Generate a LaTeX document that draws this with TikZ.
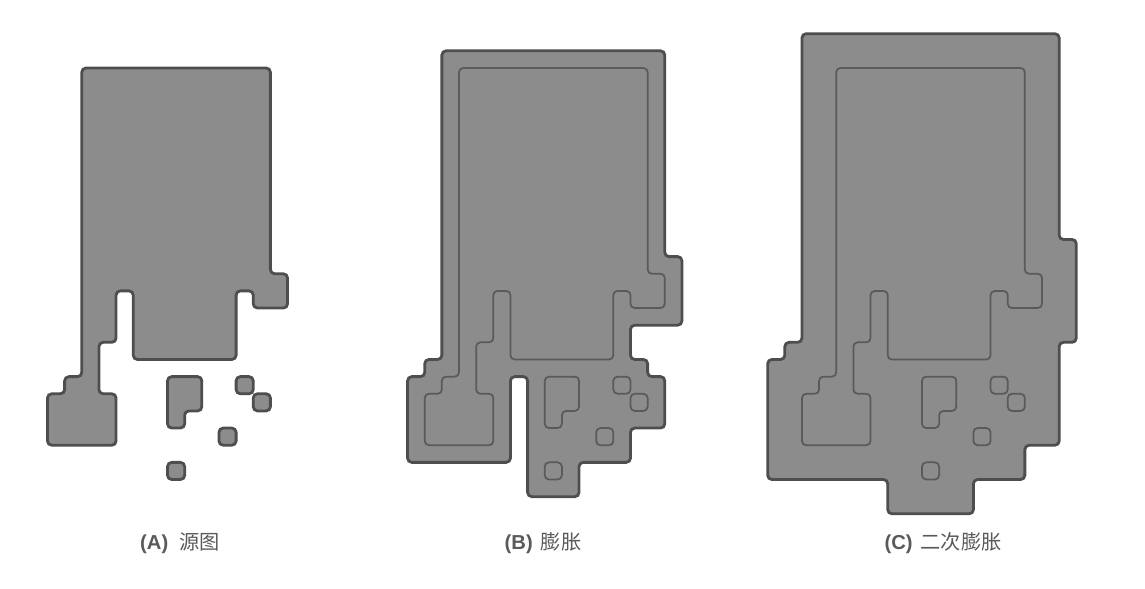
\documentclass[tikz,border=0pt]{standalone}
\usepackage{fontspec}
\setmainfont{Liberation Sans}
\newfontfamily\cjk{Noto Sans CJK SC}
\definecolor{blobfill}{HTML}{8C8C8C}
\definecolor{blobedge}{HTML}{4E4E4E}
\definecolor{labelgray}{HTML}{5A5A5A}

% source shape on a grid of cells (x right, y down)
\newcommand{\srcshape}{
  (2,0) -- (13,0) -- (13,12) -- (14,12) -- (14,14) -- (12,14) -- (12,13) -- (11,13)
  -- (11,17) -- (5,17) -- (5,13) -- (4,13) -- (4,16) -- (3,16) -- (3,19) -- (4,19)
  -- (4,22) -- (0,22) -- (0,19) -- (1,19) -- (1,18) -- (2,18) -- cycle
  (7,18) -- (9,18) -- (9,20) -- (8,20) -- (8,21) -- (7,21) -- cycle
  (11,18) rectangle (12,19)
  (12,19) rectangle (13,20)
  (10,21) rectangle (11,22)
  (7,23) rectangle (8,24)}

\begin{document}
\begin{tikzpicture}[x=0.02cm, y=-0.02cm,
  blob/.style={draw=blobedge, fill=blobfill, line width=1.6pt, rounded corners=2.4pt},
  trace/.style={draw=blobedge!80!blobfill, line width=1pt, rounded corners=2.4pt},
  cell/.style={x=0.343cm, y=-0.343cm},
  caption/.style={font=\fontsize{11.5}{13}\selectfont, text=labelgray}]
  \useasboundingbox (0,0) rectangle (1145,588);

  % (A) source
  \begin{scope}[shift={(0.95cm,-1.36cm)}, cell]
    \path[blob] \srcshape;
  \end{scope}

  % (B) dilated once
  \begin{scope}[shift={(8.496cm,-1.36cm)}, cell]
    \path[blob] (1,-1) -- (14,-1) -- (14,11) -- (15,11) -- (15,15) -- (12,15) -- (12,17)
      -- (13,17) -- (13,18) -- (14,18) -- (14,21) -- (12,21) -- (12,23) -- (9,23)
      -- (9,25) -- (6,25) -- (6,18) -- (5,18) -- (5,23) -- (-1,23) -- (-1,18)
      -- (0,18) -- (0,17) -- (1,17) -- cycle;
    \path[trace] \srcshape;
  \end{scope}

  % (C) dilated twice
  \begin{scope}[shift={(16.042cm,-1.36cm)}, cell]
    \path[blob] (0,-2) -- (15,-2) -- (15,10) -- (16,10) -- (16,16) -- (15,16) -- (15,22)
      -- (13,22) -- (13,24) -- (10,24) -- (10,26) -- (5,26) -- (5,24) -- (-2,24)
      -- (-2,17) -- (-1,17) -- (-1,16) -- (0,16) -- cycle;
    \path[trace] \srcshape;
  \end{scope}

  \node[caption] (capA) at (180,543) {\textbf{(A)}\hspace{0.55em}{\cjk 源图}};
  \node[caption] (capB) at (543,543) {\textbf{(B)}\hspace{0.4em}{\cjk 膨胀}};
  \node[caption] (capC) at (943,543) {\textbf{(C)}\hspace{0.4em}{\cjk 二次膨胀}};
\end{tikzpicture}
\end{document}
